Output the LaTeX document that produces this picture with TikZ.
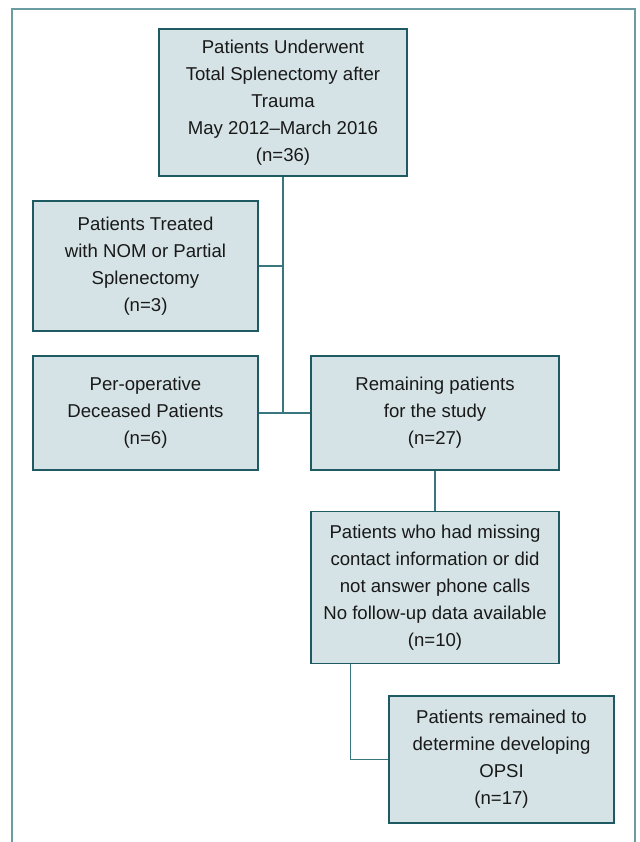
\documentclass[tikz,border=0pt]{standalone}
\usepackage{fontspec}
\setmainfont{Liberation Sans}
\usetikzlibrary{calc, positioning}
\definecolor{boxFill}{HTML}{D5E3E6}
\definecolor{boxLine}{HTML}{1E5A62}
\definecolor{linkLine}{HTML}{3A767D}
\definecolor{frameLine}{HTML}{6B9CA1}
\tikzstyle{stdText} = [align=center, inner sep=0pt, font=\fontsize{18.6pt}{27pt}\selectfont, text=black!90]
\tikzstyle{stage} = [stdText, draw=boxLine, fill=boxFill, rectangle, sharp corners, line width=1.4pt]
\tikzstyle{wide} = [minimum width=248pt]
\tikzstyle{narrow} = [minimum width=225pt]
\tikzstyle{ln} = [draw=linkLine, line width=1.5pt]
\tikzstyle{frame} = [draw=frameLine, line width=1.6pt]

\begin{document}
\begin{tikzpicture}[x=1pt, y=-1pt]
    \useasboundingbox (0,0) rectangle (639,842);

    % outer frame, open at the bottom
    \coordinate (frBL) at (12,842);
    \coordinate (frTL) at (12,9);
    \coordinate (frTR) at (635,9);
    \coordinate (frBR) at (635,842);
    \draw [frame] (frBL) -- (frTL) -- (frTR) -- (frBR);

    % the stages
    \node (s0) [stage, wide, minimum height=147pt] at (283,102.5) {Patients Underwent \\ Total Splenectomy after \\ Trauma \\ May 2012–March 2016 \\ (n=36)};
    \node (s1) [stage, narrow, minimum height=130pt] at (145.5,266) {Patients Treated \\ with NOM or Partial \\ Splenectomy \\ (n=3)};
    \node (s2) [stage, narrow, minimum height=114pt] at (145.5,413) {Per-operative \\ Deceased Patients \\ (n=6)};
    \node (s3) [stage, wide, minimum height=114pt] at (435,413) {Remaining patients \\ for the study \\ (n=27)};
    \node (s4) [stage, wide, minimum height=152pt, below=40pt of s3] {Patients who had missing \\ contact information or did \\ not answer phone calls \\ No follow-up data available \\ (n=10)};
    \node (s5) [stage, narrow, minimum height=127pt] at (501.5,759.5) {Patients remained to \\ determine developing \\ OPSI \\ (n=17)};

    % connectors
    \coordinate (j1) at (s0.south |- s1.east);
    \coordinate (j2) at (s0.south |- s2.east);
    \coordinate (t4) at ($(s4.south west)!.161!(s4.south east)$);

    \draw [ln] (s0.south) -- (j2);
    \draw [ln] (s1.east) -- (j1);
    \draw [ln] (s2.east) -- (s3.west);
    \draw [ln] (s3.south) -- (s4.north);
    \draw [ln] (t4) |- (s5.west);
\end{tikzpicture}
\end{document}
